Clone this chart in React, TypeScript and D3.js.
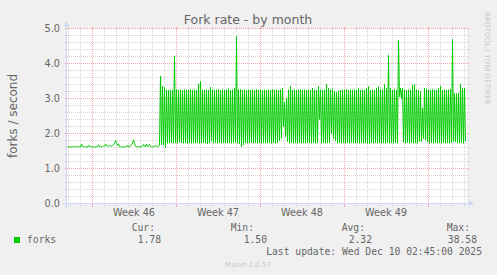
import React, { useEffect } from "react";
import * as d3 from "d3";

const W = 497;
const H = 275;

const chartTitle = "Fork rate - by month";
const yAxisLabel = "forks / second";
const yTicks = [0, 1, 2, 3, 4, 5];
const yTickLabels = ["0.0", "1.0", "2.0", "3.0", "4.0", "5.0"];
const weekLabels = ["Week 46", "Week 47", "Week 48", "Week 49"];
const seriesName = "forks";
const legendHeaders = ["Cur:", "Min:", "Avg:", "Max:"];
const legendValues = ["1.78", "1.50", "2.32", "38.58"];
const lastUpdate = "Last update: Wed Dec 10 02:45:00 2025";
const watermark = "Munin 2.0.57";
const sideText = "RRDTOOL / TOBI OETIKER";

const HOUR = 3600 * 1000;
const startTime = Date.UTC(2025, 10, 7, 22); // first 2-hour sample
const stepHours = 2;
const sampleCount = 400; // samples spanned by the graph window

// 2-hour averages of fork rate (forks / second)
const forkRate = [
  // flat period
  1.62, 1.62, 1.63, 1.62, 1.61, 1.62, 1.62, 1.63, 1.62, 1.62,
  1.63, 1.64, 1.62, 1.62, 1.70, 1.63, 1.62, 1.62, 1.62, 1.61,
  1.62, 1.67, 1.62, 1.63, 1.62, 1.62, 1.61, 1.62, 1.62, 1.63,
  1.62, 1.68, 1.63, 1.62, 1.62, 1.63, 1.64, 1.64, 1.70, 1.65,
  1.64, 1.64, 1.65, 1.65, 1.64, 1.66, 1.68, 1.72, 1.80, 1.74,
  1.66, 1.70, 1.63, 1.62, 1.62, 1.62, 1.61, 1.62, 1.62, 1.62,
  1.67, 1.62, 1.62, 1.64, 1.68, 1.73, 1.81, 1.72, 1.64, 1.62,
  1.62, 1.62, 1.63, 1.62, 1.62, 1.64, 1.69, 1.63, 1.63, 1.70,
  1.63, 1.64, 1.69, 1.63, 1.62, 1.62, 1.62, 1.63, 1.67, 1.63,
  1.62, 1.63, 1.66,
  // oscillating period
  3.64, 1.68, 3.35, 1.67, 3.32, 1.60, 3.25, 1.72, 3.24, 1.74, 3.25, 1.73, 3.24, 1.72, 4.22, 1.74, 3.26, 1.72, 3.24, 1.75,
  3.25, 1.73, 3.24, 1.72, 3.25, 1.74, 3.24, 1.71, 3.25, 1.73, 3.26, 1.72, 3.24, 1.74, 3.25, 1.72, 3.24, 1.73, 3.42, 1.72,
  3.50, 1.73, 3.25, 1.74, 3.24, 1.72, 3.25, 1.70, 3.24, 1.73, 3.33, 1.78, 3.25, 1.72, 3.24, 1.74, 3.25, 1.72, 3.26, 1.73,
  3.24, 1.72, 3.25, 1.74, 3.24, 1.73, 3.25, 1.72, 3.28, 1.73, 3.24, 1.72, 3.25, 1.74, 3.30, 1.75, 4.77, 1.72, 3.25, 1.70,
  3.26, 1.62, 3.24, 1.68, 3.25, 1.73, 3.24, 1.72, 3.25, 1.74, 3.24, 1.73, 3.25, 1.72, 3.24, 1.74, 3.26, 1.72, 3.24, 1.73,
  3.25, 1.72, 3.24, 1.74, 3.25, 1.73, 3.24, 1.72, 3.25, 1.74, 3.24, 1.72, 3.26, 1.73, 3.24, 1.72, 3.25, 1.74, 3.24, 1.80,
  3.25, 1.86, 3.30, 2.20, 2.90, 1.90, 3.00, 1.77, 3.25, 1.72, 3.36, 1.73, 3.24, 1.72, 3.25, 1.74, 3.24, 1.72, 3.25, 1.73,
  3.26, 1.72, 3.24, 1.73, 3.25, 1.72, 3.24, 1.74, 3.25, 1.73, 3.24, 1.72, 3.30, 1.74, 3.25, 1.72, 3.24, 1.73, 3.34, 2.40,
  3.25, 1.72, 3.24, 1.73, 3.25, 1.72, 3.41, 1.73, 3.30, 1.74, 3.25, 2.00, 3.28, 1.85, 3.20, 1.80, 3.18, 1.72, 3.22, 1.73,
  3.24, 1.72, 3.25, 1.74, 3.24, 1.72, 3.26, 1.73, 3.24, 1.72, 3.25, 1.74, 3.24, 1.73, 3.25, 1.72, 3.24, 1.73, 3.30, 1.72,
  3.24, 1.74, 3.25, 1.72, 3.24, 1.73, 3.30, 1.72, 3.35, 1.70, 3.24, 1.73, 3.25, 1.72, 3.24, 1.74, 3.30, 1.72, 3.34, 1.73,
  3.26, 1.72, 3.25, 1.73, 3.40, 1.72, 3.30, 1.74, 4.24, 1.72, 3.30, 1.73, 3.24, 1.72, 3.26, 1.74, 3.24, 1.72, 4.67, 3.05,
  3.30, 3.00, 3.30, 1.75, 3.25, 1.72, 3.24, 1.73, 3.25, 1.72, 3.24, 1.74, 3.38, 1.72, 3.40, 1.73, 3.25, 1.72, 3.24, 1.77,
  3.20, 1.77, 2.73, 1.85, 3.30, 1.81, 3.28, 1.76, 3.25, 1.72, 3.24, 1.73, 3.26, 1.72, 3.24, 1.74, 3.25, 1.72, 3.30, 1.73,
  3.36, 1.72, 3.24, 1.74, 3.25, 1.72, 3.24, 1.73, 3.25, 1.72, 3.26, 1.74, 4.69, 1.77, 3.15, 1.76, 3.14, 1.73, 3.16, 1.72,
  3.41, 1.74, 3.30, 1.72, 3.30, 1.78,
];

const FONT = "'DejaVu Sans', 'Liberation Sans', sans-serif";
const MONO = "'DejaVu Sans Mono', 'Liberation Mono', monospace";
const TEXT = "#666666";
const AXIS = "#CFD6F8";
const GRID = "#D6D6D6";
const MGRID = "#EDA8A8";
const LINE = "#00CC00";

export default function App() {
  useEffect(() => {
    document.body.style.margin = "0";
  }, []);

  const t0 = new Date(startTime);
  const t1 = new Date(startTime + sampleCount * stepHours * HOUR);
  const X0 = 67;
  const X1 = 467;
  const Y0 = 203.5;
  const Y1 = 28.5;

  const x = d3.scaleUtc().domain([t0, t1]).range([X0, X1]);
  const y = d3.scaleLinear().domain([0, 5]).range([Y0, Y1]);

  const px = (v: number) => Math.floor(v) + 0.5;

  const minorY = d3.range(0, 5.0001, 0.2).filter((v) => Math.abs(v - Math.round(v)) > 1e-6);
  const days = d3.utcDay.range(t0, t1).filter((d) => d.getUTCDay() !== 1);
  const mondays = d3.utcMonday.range(t0, t1);

  // samples are drawn at pixel centres
  const points = forkRate.map((v, i) => ({ t: new Date(startTime + i * stepHours * HOUR), v }));
  const line = d3
    .line<{ t: Date; v: number }>()
    .x((d) => x(d.t) + 0.5)
    .y((d) => y(d.v));

  const dash = "1,1";

  return (
    <svg width={W} height={H} style={{ display: "block", background: "#F0F0F0" }}>
      <rect x={0} y={0} width={W} height={H} fill="#F0F0F0" />
      <rect x={X0} y={Y1} width={X1 - X0} height={Y0 - Y1} fill="#FFFFFF" />

      <g shapeRendering="crispEdges">
        {minorY.map((v) => (
          <g key={"mh" + v}>
            <line x1={X0} x2={X1} y1={px(y(v))} y2={px(y(v))} stroke={GRID} strokeDasharray={dash} />
            <line x1={X0 - 2} x2={X0} y1={px(y(v))} y2={px(y(v))} stroke={GRID} />
            <line x1={X1} x2={X1 + 2} y1={px(y(v))} y2={px(y(v))} stroke={GRID} />
          </g>
        ))}
        {days.map((d) => (
          <g key={"mv" + d.getTime()}>
            <line x1={px(x(d))} x2={px(x(d))} y1={Y1} y2={Y0} stroke={GRID} strokeDasharray={dash} />
            <line x1={px(x(d))} x2={px(x(d))} y1={Y0} y2={Y0 + 2} stroke={GRID} />
            <line x1={px(x(d))} x2={px(x(d))} y1={Y1 - 2} y2={Y1} stroke={GRID} />
          </g>
        ))}
        {yTicks.map((v) => (
          <g key={"Mh" + v}>
            <line x1={X0} x2={X1} y1={px(y(v))} y2={px(y(v))} stroke={MGRID} strokeDasharray={dash} />
            <line x1={X0 - 2} x2={X0} y1={px(y(v))} y2={px(y(v))} stroke={MGRID} />
            <line x1={X1} x2={X1 + 2} y1={px(y(v))} y2={px(y(v))} stroke={MGRID} />
          </g>
        ))}
        {mondays.map((d) => (
          <g key={"Mv" + d.getTime()}>
            <line x1={px(x(d))} x2={px(x(d))} y1={Y1} y2={Y0} stroke={MGRID} strokeDasharray={dash} />
            <line x1={px(x(d))} x2={px(x(d))} y1={Y0} y2={Y0 + 3} stroke={MGRID} />
            <line x1={px(x(d))} x2={px(x(d))} y1={Y1 - 2} y2={Y1} stroke={MGRID} />
          </g>
        ))}
      </g>

      <path d={line(points) || ""} fill="none" stroke={LINE} strokeWidth={1} />

      <g shapeRendering="crispEdges">
        <line x1={X0 - 4} x2={X1 + 4} y1={Y0} y2={Y0} stroke={AXIS} />
        <line x1={X0 - 0.5} x2={X0 - 0.5} y1={Y0 + 4} y2={Y1 - 4} stroke={AXIS} />
      </g>
      <polygon points={`${X1 + 2},${Y0 + 3} ${X1 + 2},${Y0 - 3} ${X1 + 7},${Y0}`} fill={AXIS} />
      <polygon points={`${X0 - 3.5},${Y1 - 2} ${X0 + 2.5},${Y1 - 2} ${X0 - 0.5},${Y1 - 7}`} fill={AXIS} />

      {yTicks.map((v, i) => (
        <text key={"yl" + v} x={60} y={y(v) + 3.5} textAnchor="end" fontFamily={FONT} fontSize={9.7} fill={TEXT}>
          {yTickLabels[i]}
        </text>
      ))}

      {weekLabels.map((lab, i) => (
        <text
          key={lab}
          x={x(new Date(mondays[i].getTime() + 3.5 * 24 * HOUR))}
          y={216}
          textAnchor="middle"
          fontFamily={FONT}
          fontSize={9.7}
          fill={TEXT}
        >
          {lab}
        </text>
      ))}

      <text x={248} y={24} textAnchor="middle" fontFamily={FONT} fontSize={12.5} fill={TEXT}>
        {chartTitle}
      </text>

      <text
        transform="translate(16.5,116) rotate(-90)"
        textAnchor="middle"
        fontFamily={FONT}
        fontSize={12}
        fill={TEXT}
      >
        {yAxisLabel}
      </text>

      <text transform="translate(485,12) rotate(90)" fontFamily={FONT} fontSize={7.2} fill="#C8C8C8">
        {sideText}
      </text>

      <rect x={14} y={237} width={6} height={6} fill={LINE} />
      <text x={27} y={243} fontFamily={MONO} fontSize={9.7} fill={TEXT}>
        {seriesName}
      </text>
      {legendHeaders.map((h, i) => (
        <text key={h} x={[155, 254, 365, 470][i]} y={231} textAnchor="end" fontFamily={MONO} fontSize={9.7} fill={TEXT}>
          {h}
        </text>
      ))}
      {legendValues.map((v, i) => (
        <text key={"v" + i} x={[161, 267, 372, 477][i]} y={243} textAnchor="end" fontFamily={MONO} fontSize={9.7} fill={TEXT}>
          {v}
        </text>
      ))}
      <text x={482} y={255} textAnchor="end" fontFamily={MONO} fontSize={9.7} fill={TEXT}>
        {lastUpdate}
      </text>
      <text x={248} y={267} textAnchor="middle" fontFamily={FONT} fontSize={7} fill="#C8C8C8">
        {watermark}
      </text>
    </svg>
  );
}
